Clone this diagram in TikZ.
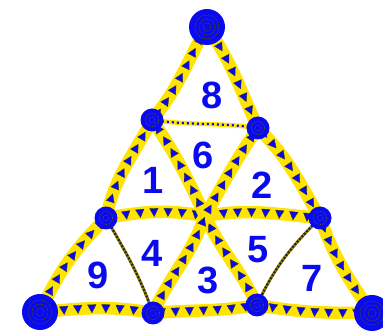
\documentclass[tikz,border=0pt]{standalone}
\usepackage{fontspec}
\setsansfont{Liberation Sans}
\usepackage{xcolor}
\usetikzlibrary{decorations.markings, backgrounds}
\definecolor{seamyellow}{RGB}{255,228,0}
\definecolor{dotblue}{RGB}{10,10,240}
\tikzset{
  bignode/.style={circle, fill=dotblue, minimum size=36pt, inner sep=0pt,
    path picture={\draw[black!75, densely dotted, line width=0.9pt]
      (path picture bounding box.center) circle (4pt) circle (8pt) circle (12pt);}},
  smallnode/.style={circle, fill=dotblue, minimum size=23pt, inner sep=0pt,
    path picture={\draw[black!70, densely dotted, line width=0.8pt]
      (path picture bounding box.center) circle (3pt) circle (6.5pt);}},
  areanum/.style={text=dotblue, font=\fontsize{38}{38}\selectfont\sffamily\bfseries},
  seam/.style={draw=seamyellow, line width=12.5pt, line cap=round,
    postaction={decorate, decoration={markings,
      mark=between positions 0.03 and 0.99 step 14pt with
        {\fill[dotblue, draw=black!80, line width=0.4pt]
          (4.5pt,0) -- (-3.5pt,4.2pt) -- (-3.5pt,-4.2pt) -- cycle;}}}},
  seamdown/.style={draw=seamyellow, line width=12.5pt, line cap=round,
    postaction={decorate, decoration={markings,
      mark=between positions 0.03 and 0.99 step 14pt with
        {\fill[dotblue, draw=black!80, line width=0.4pt]
          (0,-4.5pt) -- (4.2pt,3.5pt) -- (-4.2pt,3.5pt) -- cycle;}}}},
  stitch/.style={draw=seamyellow, line width=4.5pt,
    postaction={draw=dotblue, line width=2.2pt, dash pattern=on 2pt off 3pt}},
  hairseam/.style={draw=seamyellow!60!black, line width=3pt,
    postaction={draw=black!85, line width=2.2pt, dash pattern=on 2pt off 1.5pt}}
}

\begin{document}
\begin{tikzpicture}[x=1pt, y=1pt]
  \useasboundingbox (0,0) rectangle (383,334);

  % corners and joints
  \node[bignode] (top) at (207,307) {};
  \node[bignode] (botleft) at (40,22) {};
  \node[bignode] (botright) at (372,21) {};
  \node[smallnode] (upl) at (152,214) {};
  \node[smallnode] (upr) at (258,206) {};
  \node[smallnode] (midl) at (106,116) {};
  \node[smallnode] (midr) at (320,116) {};
  \node[smallnode] (lowl) at (153,21) {};
  \node[smallnode] (lowr) at (257,29) {};
  \coordinate (cross) at (205,118);

  % area numbers
  \node[areanum] (n8) at (212,239) {8};
  \node[areanum] (n6) at (203,179) {6};
  \node[areanum] (n1) at (153,154) {1};
  \node[areanum] (n2) at (262,149) {2};
  \node[areanum] (n4) at (152,81) {4};
  \node[areanum] (n5) at (258,84) {5};
  \node[areanum] (n3) at (208,54) {3};
  \node[areanum] (n9) at (98,59) {9};
  \node[areanum] (n7) at (312,56) {7};

  \begin{scope}[on background layer]
    \draw[hairseam] (midl.center) to[out=-60, in=110] (lowl.center);
    \draw[hairseam] (midr.center) to[out=-135, in=65] (lowr.center);
    \draw[stitch] (upl.center) to[out=-8, in=172] (upr.center);
    \draw[seam] (botleft.center) to[out=65, in=-135] (midl.center)
      to[out=78, in=-118] (upl.center) to[out=50, in=-120] (top.center);
    \draw[seam] (top.center) to[out=-55, in=115] (upr.center)
      to[out=-45, in=120] (midr.center) to[out=-70, in=125] (botright.center);
    \draw[seamdown] (botleft.center) to[out=5, in=170] (lowl.center)
      to[out=5, in=-170] (lowr.center) to[out=-10, in=180] (botright.center);
    \draw[seamdown] (midl.center) to[out=10, in=170] (cross)
      to[out=10, in=175] (midr.center);
    \draw[seam] (lowr.center) to[out=115, in=-65] (cross)
      to[out=115, in=-55] (upl.center);
    \draw[seam] (lowl.center) to[out=65, in=-110] (cross)
      to[out=60, in=-125] (upr.center);
  \end{scope}
\end{tikzpicture}
\end{document}
